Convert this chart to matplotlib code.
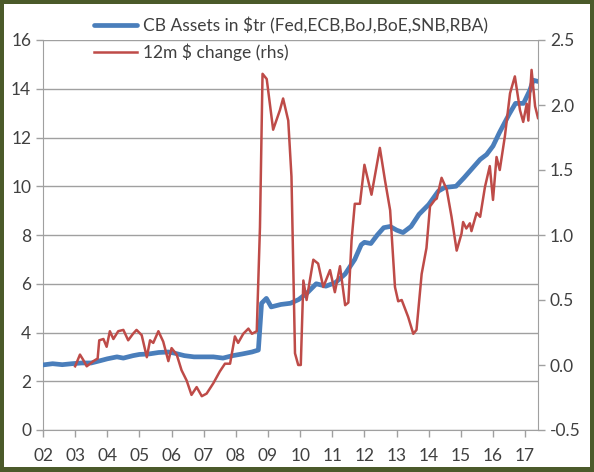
import matplotlib
matplotlib.use('Agg')
import matplotlib.pyplot as plt
from matplotlib.patches import Rectangle
import numpy as np

# CB assets, $tr (left axis)
cb_year = [2002.0, 2002.3, 2002.6, 2002.9, 2003.2, 2003.5, 2003.8, 2004.0, 2004.3, 2004.5,
           2004.8, 2005.0, 2005.3, 2005.6, 2005.9, 2006.1, 2006.4, 2006.7, 2007.0, 2007.3,
           2007.6, 2007.9, 2008.2, 2008.5, 2008.7, 2008.8, 2008.95, 2009.1, 2009.4, 2009.7,
           2009.95, 2010.2, 2010.5, 2010.8, 2011.1, 2011.4, 2011.7, 2011.9, 2012.0, 2012.2,
           2012.4, 2012.6, 2012.8, 2013.0, 2013.2, 2013.45, 2013.7, 2014.0, 2014.3, 2014.5,
           2014.85, 2015.1, 2015.4, 2015.6, 2015.8, 2016.0, 2016.2, 2016.5, 2016.7, 2016.95,
           2017.15, 2017.25, 2017.4]
cb_assets = [2.67, 2.72, 2.68, 2.72, 2.75, 2.75, 2.85, 2.92, 3.0, 2.95,
             3.05, 3.1, 3.12, 3.18, 3.2, 3.15, 3.05, 3.0, 3.0, 3.0,
             2.95, 3.05, 3.12, 3.2, 3.28, 5.2, 5.4, 5.05, 5.15, 5.2,
             5.35, 5.6, 6.0, 5.9, 6.05, 6.4, 7.0, 7.6, 7.7, 7.65,
             8.0, 8.3, 8.35, 8.2, 8.1, 8.35, 8.85, 9.25, 9.8, 9.95,
             10.0, 10.35, 10.8, 11.1, 11.3, 11.65, 12.2, 12.95, 13.4, 13.4,
             13.95, 14.35, 14.3]

# 12m $ change (right axis)
chg_year = [2003.0, 2003.15, 2003.25, 2003.36, 2003.57, 2003.7, 2003.75, 2003.88, 2003.98, 2004.08,
            2004.19, 2004.34, 2004.5, 2004.65, 2004.8, 2004.91, 2005.07, 2005.23, 2005.33, 2005.43,
            2005.59, 2005.74, 2005.9, 2006.0, 2006.16, 2006.31, 2006.47, 2006.62, 2006.78, 2006.94,
            2007.09, 2007.3, 2007.5, 2007.66, 2007.82, 2007.97, 2008.07, 2008.23, 2008.39, 2008.5,
            2008.65, 2008.75, 2008.83, 2008.96, 2009.16, 2009.37, 2009.47, 2009.63, 2009.73, 2009.84,
            2009.94, 2010.02, 2010.1, 2010.2, 2010.41, 2010.56, 2010.72, 2010.93, 2011.08, 2011.24,
            2011.4, 2011.5, 2011.6, 2011.7, 2011.86, 2012.0, 2012.22, 2012.48, 2012.64, 2012.8,
            2012.95, 2013.05, 2013.16, 2013.36, 2013.52, 2013.62, 2013.78, 2013.93, 2014.04, 2014.19,
            2014.25, 2014.4, 2014.56, 2014.71, 2014.87, 2015.02, 2015.07, 2015.17, 2015.28, 2015.33,
            2015.49, 2015.6, 2015.75, 2015.9, 2016.0, 2016.11, 2016.21, 2016.37, 2016.53, 2016.68,
            2016.84, 2016.94, 2017.05, 2017.1, 2017.2, 2017.31, 2017.4]
chg_12m = [-0.01, 0.08, 0.04, -0.01, 0.03, 0.05, 0.19, 0.2, 0.14, 0.26,
           0.2, 0.26, 0.27, 0.19, 0.24, 0.27, 0.23, 0.06, 0.19, 0.17,
           0.26, 0.18, 0.03, 0.13, 0.08, -0.04, -0.12, -0.23, -0.17, -0.24,
           -0.22, -0.14, -0.05, 0.01, 0.01, 0.22, 0.17, 0.24, 0.28, 0.24,
           0.26, 1.06, 2.24, 2.2, 1.81, 1.96, 2.05, 1.88, 1.45, 0.09,
           0.0, 0.0, 0.65, 0.5, 0.81, 0.78, 0.6, 0.73, 0.56, 0.76,
           0.46, 0.48, 0.96, 1.24, 1.24, 1.54, 1.31, 1.67, 1.42, 1.19,
           0.6, 0.49, 0.5, 0.37, 0.24, 0.27, 0.7, 0.9, 1.22, 1.27,
           1.28, 1.44, 1.35, 1.14, 0.88, 1.01, 1.1, 1.05, 1.09, 1.03,
           1.17, 1.14, 1.37, 1.53, 1.27, 1.6, 1.5, 1.76, 2.09, 2.22,
           1.96, 1.87, 2.01, 1.88, 2.27, 1.99, 1.9]

year_ticks = list(range(2002, 2018))
year_labels = ['%02d' % (y % 100) for y in year_ticks]

plt.rcParams['font.family'] = ['Lato', 'DejaVu Sans']
txt = '#404040'
grid_c = '#a0a0a0'

fig = plt.figure(figsize=(5.94, 4.72), dpi=100)
fig.patch.set_facecolor('#4b5a2a')
fig.add_artist(Rectangle((4/594, 5/472), 1 - 8/594, 1 - 9/472,
                         transform=fig.transFigure, facecolor='white', edgecolor='none', zorder=-10))

ax = fig.add_axes([43/594, 42/472, 495/594, 390/472])
ax.set_facecolor('none')
ax2 = ax.twinx()

l1, = ax.plot(cb_year, cb_assets, color='#4a7ebb', lw=3.4, solid_capstyle='round', zorder=3)
l2, = ax2.plot(chg_year, chg_12m, color='#be4b48', lw=1.8, zorder=4)

ax.set_xlim(2002, 2017.4)
ax.set_ylim(0, 16)
ax.set_yticks(np.arange(0, 17, 2))
ax2.set_ylim(-0.5, 2.5)
ax2.set_yticks(np.arange(-0.5, 2.51, 0.5))
ax2.set_yticklabels(['%.1f' % v for v in np.arange(-0.5, 2.51, 0.5)])
ax.set_xticks(year_ticks)
ax.set_xticklabels(year_labels)

ax.grid(axis='y', color=grid_c, lw=1)
ax.set_axisbelow(True)
for a in (ax, ax2):
    for s in a.spines.values():
        s.set_color(grid_c)
    a.spines['top'].set_visible(False)
ax2.spines['left'].set_visible(False)
ax2.spines['bottom'].set_visible(False)
ax.spines['right'].set_visible(False)

ax.tick_params(axis='both', colors=grid_c, labelcolor=txt, labelsize=12.5, length=5, width=1)
ax2.tick_params(axis='y', colors=grid_c, labelcolor=txt, labelsize=12.5, length=5, width=1)
ax.tick_params(axis='x', pad=8)

fig.legend([l1, l2], ['CB Assets in $tr (Fed,ECB,BoJ,BoE,SNB,RBA)', '12m $ change (rhs)'],
           loc='upper left', bbox_to_anchor=(94/594, 1 - 17/472), frameon=False,
           fontsize=12.5, handlelength=2.5, handletextpad=0.3, labelspacing=0.55,
           borderpad=0, borderaxespad=0, labelcolor=txt)

fig.savefig('out.png', dpi=100, facecolor=fig.get_facecolor())
